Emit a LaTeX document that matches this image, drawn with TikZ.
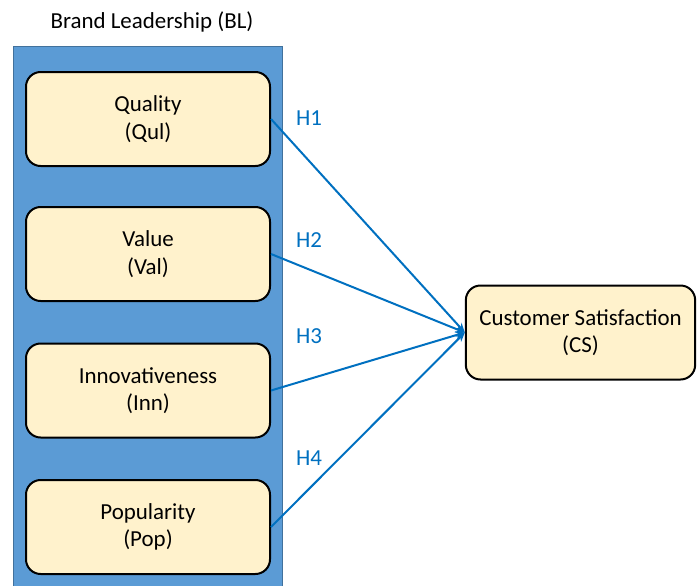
\documentclass[tikz,border=0pt]{standalone}
\usepackage{fontspec}
\setmainfont{Carlito}
\usetikzlibrary{arrows.meta}
\definecolor{boxfill}{HTML}{FFF2CC}
\definecolor{blfill}{HTML}{5B9BD5}
\definecolor{blline}{HTML}{41719C}
\definecolor{hblue}{HTML}{0070C0}
\begin{document}
\begin{tikzpicture}[x=0.75pt,y=-0.75pt,
  factor/.style={draw=black, line width=1.5pt, rounded corners=11pt, fill=boxfill,
    minimum width=183pt, minimum height=70.5pt, align=center, font=\fontsize{17.2}{20.5}\selectfont},
  hyp/.style={-{Stealth[length=7pt,width=6pt]}, hblue, line width=1.5pt},
  hlabel/.style={text=hblue, font=\fontsize{17.2}{20.5}\selectfont}]
\useasboundingbox (0,0) rectangle (697,586);
\node[font=\fontsize{17.2}{20.5}\selectfont] at (152,22) (title) {Brand Leadership (BL)};
\draw[blline, fill=blfill, line width=0.6pt] (13,46) rectangle (282,590); % brand leadership block
\node[factor] at (148,119) (qul) {Quality\\(Qul)};
\node[factor] at (148,254) (val) {Value\\(Val)};
\node[factor] at (148,390.5) (inn) {Innovativeness\\(Inn)};
\node[factor] at (148,527) (pop) {Popularity\\(Pop)};
\node[factor, minimum width=172pt] at (580.5,332.5) (cs) {Customer Satisfaction\\(CS)};
\node[hlabel] at (309,118) (h1) {H1};
\node[hlabel] at (309,240) (h2) {H2};
\node[hlabel] at (309,336) (h3) {H3};
\node[hlabel] at (309,458) (h4) {H4};
\draw[hyp] (qul.east) -- (cs.west); % hypotheses
\draw[hyp] (val.east) -- (cs.west);
\draw[hyp] (inn.east) -- (cs.west);
\draw[hyp] (pop.east) -- (cs.west);
\end{tikzpicture}
\end{document}
